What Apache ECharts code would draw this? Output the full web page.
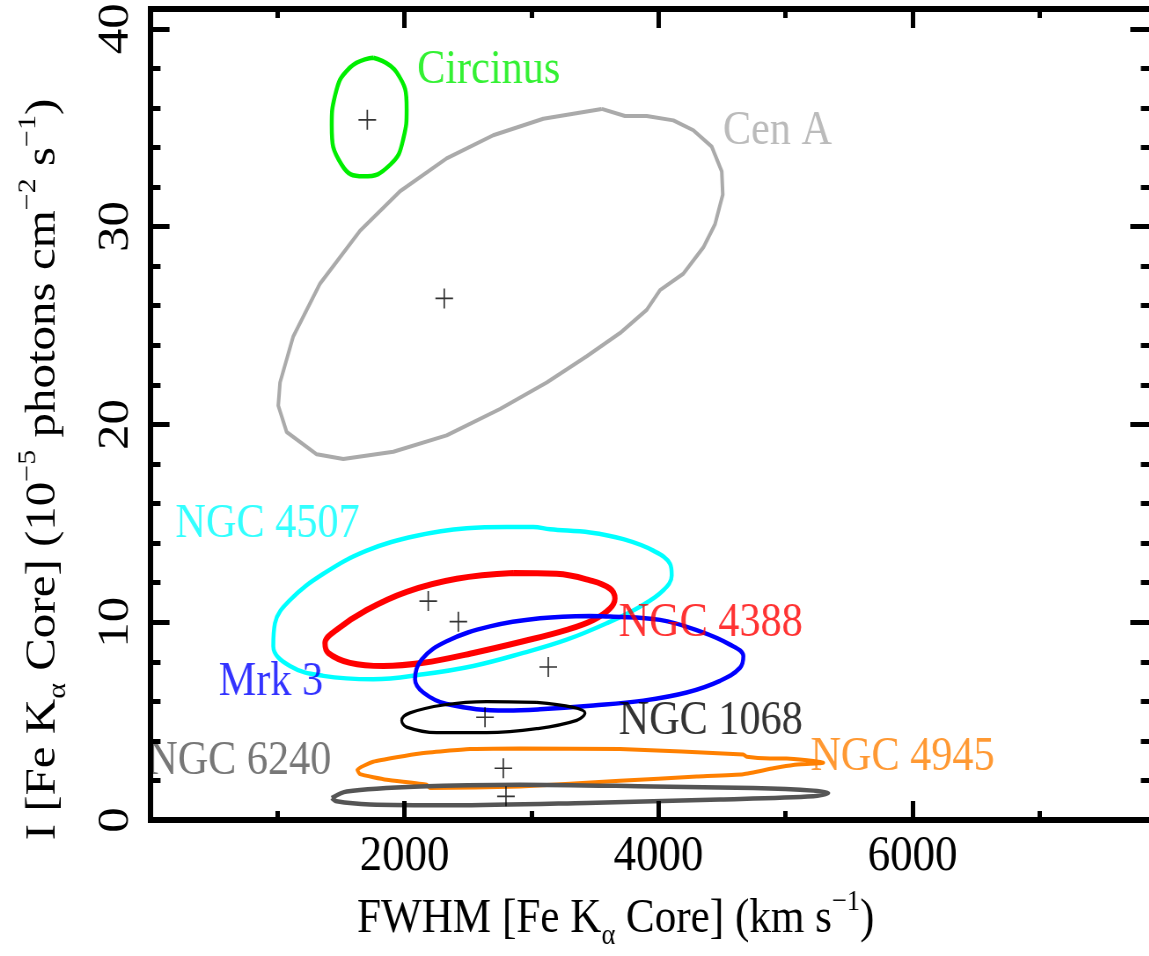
<!DOCTYPE html>
<html>
<head>
<meta charset="utf-8">
<script src="https://cdn.jsdelivr.net/npm/echarts@6/dist/echarts.min.js"></script>
<style>
html,body{margin:0;padding:0;background:#fff;overflow:hidden;width:1149px;height:956px;}
#chart{width:1320px;height:956px;transform:scaleX(0.88);transform-origin:0 0;}
</style>
</head>
<body>
<div id="chart"></div>
<script>
// ---------------- data ----------------
const xTickLabels = ['2000', '4000', '6000'];
const yTickLabels = ['0', '10', '20', '30', '40'];
const X_MAX = 7895, Y_MAX = 41;

const sourceNames = ['Circinus', 'Cen A', 'NGC 4507', 'NGC 4388', 'Mrk 3', 'NGC 1068', 'NGC 4945', 'NGC 6240'];

// best-fit points (FWHM km/s, intensity 1e-5 ph/cm2/s)
const bestFitX = [1707, 2313, 2187, 2424, 3132, 2634, 2778, 2799];
const bestFitY = [35.4, 26.37, 11.07, 10.03, 7.74, 5.2, 2.62, 1.2];

// label anchors (left edge, vertical middle)
const labelX = [2096, 4504, 193, 3683, 534, 3683, 5193, 5];
const labelY = [38.05, 34.95, 15.1, 10.1, 7.1, 5.15, 3.3, 3.1];

// confidence contours
const circinusContour = [[1754,38.54],[1939,37.79],[2017,35.95],[1991,34.45],[1886,33.12],[1676,32.54],[1506,33.12],[1427,35.12],[1453,36.62],[1571,38.04]];
const cenAContour = [[3553,35.95],[3736,35.59],[3907,35.59],[4117,35.37],[4274,34.87],[4419,34.04],[4498,32.79],[4506,31.62],[4445,30.12],[4353,28.95],[4195,27.62],[4012,26.79],[3907,25.79],[3697,24.62],[3435,23.45],[3120,22.12],[2752,20.78],[2332,19.45],[1912,18.62],[1518,18.25],[1309,18.49],[1072,19.62],[1006,20.95],[1020,22.12],[1124,24.45],[1335,27.12],[1650,29.79],[1965,31.79],[2332,33.45],[2699,34.62],[3093,35.45]];
const ngc4507Contour = [[2805,14.82],[3014,14.82],[3146,14.70],[3461,14.54],[3723,14.20],[3959,13.62],[4091,12.95],[4104,12.37],[4038,11.62],[3854,10.79],[3592,9.95],[3277,9.12],[2935,8.45],[2542,7.79],[2148,7.37],[1754,7.12],[1361,7.29],[1098,7.79],[967,8.79],[980,9.95],[1098,11.12],[1361,12.45],[1702,13.62],[2096,14.37],[2490,14.75]];
const ngc4388Contour = [[2857,12.49],[3198,12.45],[3461,12.12],[3618,11.70],[3657,11.20],[3618,10.70],[3487,10.12],[3277,9.62],[2935,9.04],[2542,8.45],[2148,7.95],[1833,7.79],[1571,7.95],[1400,8.45],[1374,8.95],[1466,9.62],[1702,10.62],[2017,11.54],[2411,12.20]];
const mrk3Contour = [[3461,10.32],[3618,10.29],[4012,10.12],[4327,9.54],[4563,8.87],[4668,8.29],[4642,7.70],[4484,7.04],[4222,6.45],[3880,6.04],[3487,5.79],[3067,5.60],[2805,5.54],[2332,5.87],[2148,6.45],[2083,7.12],[2135,8.12],[2332,9.04],[2673,9.79],[3067,10.20]];
const ngc1068Contour = [[3041,5.95],[3329,5.70],[3421,5.42],[3356,5.04],[3041,4.62],[2647,4.42],[2254,4.42],[2017,4.70],[1978,5.04],[2043,5.42],[2306,5.82],[2647,5.99]];
const ngc4945Contour = [[2909,3.62],[3697,3.59],[4668,3.32],[4694,3.20],[4878,3.12],[5009,3.12],[5298,2.90],[5061,2.79],[4904,2.62],[4668,2.32],[4301,2.20],[3697,1.99],[2909,1.70],[2201,1.62],[2175,1.79],[1860,2.04],[1650,2.32],[1628,2.54],[1754,2.95],[2122,3.37],[2516,3.59]];
const ngc6240Contour = [[1427,1.12],[1545,1.45],[2122,1.70],[2909,1.79],[3959,1.70],[4746,1.62],[5219,1.49],[5337,1.37],[5219,1.20],[4484,1.04],[3435,0.87],[2384,0.75],[1728,0.79],[1466,0.95]];

// ---------------- styles ----------------
const FONT = '"Liberation Serif", "Times New Roman", Times, serif';
const colors = ['#00ee00', '#aaaaaa', '#00ffff', '#ff0000', '#0000ff', '#000000', '#ff8000', '#555555'];
const widths = [4.5, 4, 4.5, 6, 4.5, 3.2, 4, 4.5];
const smooths = [0.5, false, 0.4, 0.4, 0.4, 0.4, 0.15, 0.3];
const contours = [circinusContour, cenAContour, ngc4507Contour, ngc4388Contour, mrk3Contour, ngc1068Contour, ngc4945Contour, ngc6240Contour];

const chart = echarts.init(document.getElementById('chart'));

const series = contours.map((pts, i) => ({
  name: sourceNames[i],
  type: 'line',
  xAxisIndex: 0, yAxisIndex: 0,
  data: pts.concat([pts[0]]),
  showSymbol: false,
  smooth: smooths[i],
  lineStyle: { color: colors[i], width: widths[i], join: 'round' },
  silent: true, z: 2
}));

series.push({
  type: 'scatter', xAxisIndex: 0, yAxisIndex: 0,
  data: bestFitX.map((x, i) => [x, bestFitY[i]]),
  symbol: 'path://M1,0L1,2M0,1L2,1',
  symbolSize: 20,
  itemStyle: { color: 'none', borderColor: '#000', borderWidth: 1.7 },
  silent: true, z: 3
});

series.push({
  type: 'scatter', xAxisIndex: 0, yAxisIndex: 0,
  data: labelX.map((x, i) => ({
    value: [x, labelY[i]], name: sourceNames[i],
    label: { color: colors[i], distance: i === 7 ? -5 : 0 }
  })),
  symbolSize: 1,
  itemStyle: { color: 'transparent' },
  label: { show: true, position: 'right', distance: 0, offset: [0, 3], formatter: '{b}', fontFamily: FONT, fontSize: 48 },
  silent: true, z: 4
});

const titleRich = {
  t: { fontFamily: FONT, fontSize: 49, color: '#000', lineHeight: 64 },
  sub: { fontFamily: FONT, fontSize: 30, color: '#000', verticalAlign: 'bottom', lineHeight: 30 },
  sup: { fontFamily: FONT, fontSize: 30, color: '#000', verticalAlign: 'top', lineHeight: 34 }
};

function xAx(pos, interval, len, main) {
  return {
    type: 'value', position: pos, min: 0, max: X_MAX, interval: interval,
    axisLine: main ? { show: true, onZero: false, lineStyle: { color: '#000', width: 6, cap: 'square' } } : { show: false, onZero: false },
    axisTick: { show: true, inside: true, length: len, lineStyle: { color: '#000', width: 5 } },
    axisLabel: (main && pos === 'bottom') ? {
      show: true, margin: 11, fontFamily: FONT, fontSize: 51, color: '#000',
      formatter: v => xTickLabels.indexOf(String(v)) >= 0 ? String(v) : ''
    } : { show: false },
    splitLine: { show: false },
    z: 10
  };
}
function yAx(pos, interval, len, main) {
  return {
    type: 'value', position: pos, min: 0, max: Y_MAX, interval: interval,
    axisLine: main ? { show: true, onZero: false, lineStyle: { color: '#000', width: 6, cap: 'square' } } : { show: false, onZero: false },
    axisTick: { show: true, inside: true, length: len, lineStyle: { color: '#000', width: 5 } },
    axisLabel: (main && pos === 'left') ? {
      show: true, rotate: 90, margin: 14, fontFamily: FONT, fontSize: 51, color: '#000',
      formatter: v => yTickLabels.indexOf(String(v)) >= 0 ? String(v) : ''
    } : { show: false },
    splitLine: { show: false },
    z: 10
  };
}

const xMain = xAx('bottom', 2000, 19, true);
xMain.name = '{t|FWHM [Fe K}{sub|α}{t| Core] (km s}{sup|−1}{t|)}';
xMain.nameLocation = 'middle';
xMain.nameGap = 62;
xMain.nameTextStyle = { fontFamily: FONT, fontSize: 49, color: '#000', padding: [0, 82, 0, 0], rich: titleRich };

const yMain = yAx('left', 10, 21.6, true);
yMain.name = '{t|I [Fe K}{sub|α}{t| Core] (10}{sup|−5}{t| photons cm}{sup|−2}{t| s}{sup|−1}{t|)}';
yMain.nameLocation = 'middle';
yMain.nameRotate = 90;
yMain.nameGap = 90;
yMain.nameTextStyle = { fontFamily: FONT, fontSize: 48, color: '#000', padding: [0, 110, 0, 0], rich: titleRich };

chart.setOption({
  backgroundColor: '#ffffff',
  animation: false,
  grid: { left: 171, top: 9, width: 1139.4, height: 820, containLabel: false },
  xAxis: [xMain, xAx('bottom', 1000, 9, false), xAx('top', 2000, 19, true), xAx('top', 1000, 9, false)],
  yAxis: [yMain, yAx('left', 2, 11.4, false), yAx('right', 10, 26, true), yAx('right', 2, 14, false)],
  series: series
});
</script>
</body>
</html>
